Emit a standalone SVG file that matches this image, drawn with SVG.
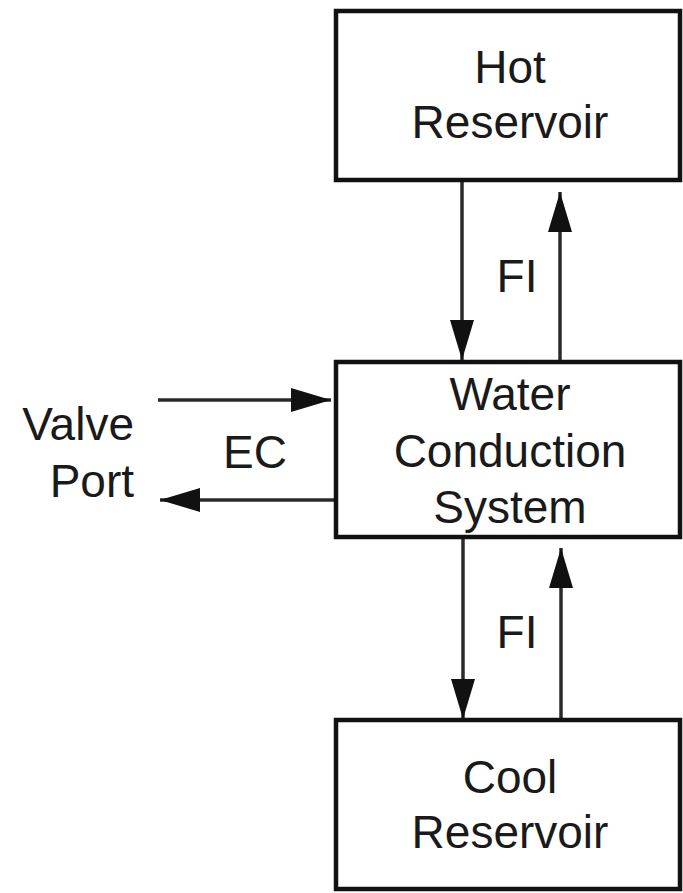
<svg xmlns="http://www.w3.org/2000/svg" width="683" height="893" viewBox="0 0 683 893">
<style>
.box{fill:#fff;stroke:#111;stroke-width:4.5}
.t{font-family:"Liberation Sans",Arial,sans-serif;font-size:46px;fill:#1a1a1a;text-anchor:middle}
.c{stroke:#2a2a2a;stroke-width:3.5;fill:none;marker-end:url(#ah)}
</style>
<defs>
<marker id="ah" markerUnits="userSpaceOnUse" markerWidth="40" markerHeight="24" refX="40" refY="12" orient="auto">
<path d="M0,0 L40,12 L0,24 Z" fill="#111"/>
</marker>
</defs>
<rect width="683" height="893" fill="#fff"/>
<g id="connectors">
<line class="c" x1="462" y1="182" x2="462" y2="360"/>
<line class="c" x1="560" y1="361" x2="560" y2="192"/>
<line class="c" x1="158" y1="400" x2="331" y2="400"/>
<line class="c" x1="334" y1="500" x2="160" y2="500"/>
<line class="c" x1="463" y1="539" x2="463" y2="719"/>
<line class="c" x1="561" y1="719" x2="561" y2="548"/>
<text class="t" x="517" y="292">FI</text>
<text class="t" x="517" y="648">FI</text>
<text class="t" x="255" y="468">EC</text>
</g>
<g id="hot">
<rect class="box" x="336" y="11" width="344" height="169"/>
<text class="t" x="510" y="83">Hot</text>
<text class="t" x="510" y="138">Reservoir</text>
</g>
<g id="water">
<rect class="box" x="336" y="362" width="344" height="175"/>
<text class="t" x="510" y="410">Water</text>
<text class="t" x="510" y="467">Conduction</text>
<text class="t" x="510" y="523">System</text>
</g>
<g id="cool">
<rect class="box" x="336" y="720" width="344" height="169"/>
<text class="t" x="510" y="793">Cool</text>
<text class="t" x="510" y="848">Reservoir</text>
</g>
<g id="valve">
<text class="t" x="134" y="440" style="text-anchor:end">Valve</text>
<text class="t" x="134" y="497" style="text-anchor:end">Port</text>
</g>
</svg>
